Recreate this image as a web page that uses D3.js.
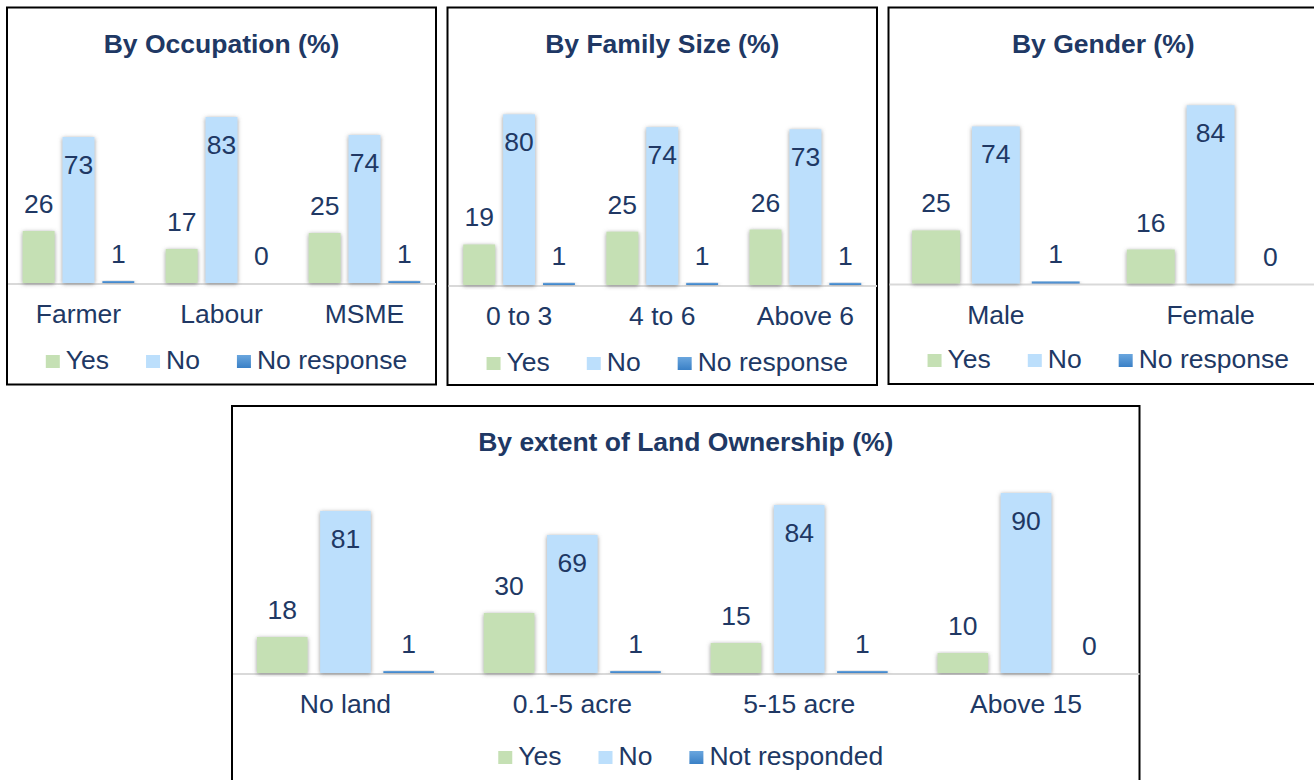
<!DOCTYPE html>
<html>
<head>
<meta charset="utf-8">
<script src="https://cdn.jsdelivr.net/npm/d3@7"></script>
<style>
  body { margin: 0; background: #fff; }
  svg text { font-family: "Liberation Sans", Arial, sans-serif; fill: #203864; }
</style>
</head>
<body>
<div id="wrapper"></div>
<script>
/*global d3*/

// 1. Data

const occCategories = ["Farmer", "Labour", "MSME"]
const occYes = [26, 17, 25]
const occNo = [73, 83, 74]
const occNoResponse = [1, 0, 1]

const famCategories = ["0 to 3", "4 to 6", "Above 6"]
const famYes = [19, 25, 26]
const famNo = [80, 74, 73]
const famNoResponse = [1, 1, 1]

const genCategories = ["Male", "Female"]
const genYes = [25, 16]
const genNo = [74, 84]
const genNoResponse = [1, 0]

const landCategories = ["No land", "0.1-5 acre", "5-15 acre", "Above 15"]
const landYes = [18, 30, 15, 10]
const landNo = [81, 69, 84, 90]
const landNoResponse = [1, 1, 1, 0]

const seriesNames = ["Yes", "No", "No response"]
const landSeriesNames = ["Yes", "No", "Not responded"]

function drawChart() {

    const svg = d3.select("#wrapper")
        .append("svg")
        .attr("width", 1314)
        .attr("height", 780)

    const defs = svg.append("defs")

    const shadow = defs.append("filter")
        .attr("id", "barShadow")
        .attr("x", "-30%").attr("y", "-10%")
        .attr("width", "160%").attr("height", "120%")
    shadow.append("feDropShadow")
        .attr("dx", 0).attr("dy", 1)
        .attr("stdDeviation", 2)
        .attr("flood-color", "#6f6f6f")
        .attr("flood-opacity", 0.75)

    const grad = defs.append("linearGradient")
        .attr("id", "nrGrad")
        .attr("x1", 0).attr("y1", 0).attr("x2", 0).attr("y2", 1)
    grad.append("stop").attr("offset", "0%").attr("stop-color", "#6aa6de")
    grad.append("stop").attr("offset", "100%").attr("stop-color", "#3a80c6")

    const fills = ["#c5e0b4", "#bcdffc", "url(#nrGrad)"]

    function drawPanel(p) {
        const g = svg.append("g")

        // frame
        g.append("rect")
            .attr("x", p.left)
            .attr("y", p.top)
            .attr("width", p.right - p.left)
            .attr("height", p.bottom - p.top)
            .attr("fill", "#fff")
            .attr("stroke", "#000")
            .attr("stroke-width", 2)

        const cx = (p.left + p.right) / 2

        g.append("text")
            .attr("x", cx)
            .attr("y", p.top + 45)
            .attr("text-anchor", "middle")
            .style("font-size", "26.5px")
            .style("font-weight", "bold")
            .text(p.title)

        // scales
        const x0 = d3.scaleBand()
            .domain(p.categories)
            .range([p.left, p.right])
            .padding(0)

        const groupW = x0.bandwidth() * 0.78

        const x1 = d3.scaleBand()
            .domain(p.series)
            .range([0, groupW])
            .paddingInner(0.2)
            .paddingOuter(0)

        const y = d3.scaleLinear()
            .domain([0, p.yMax])
            .range([p.baseline, p.baseline - p.plotH])

        const rows = p.categories.map((c, i) => ({
            category: c,
            values: [p.yes[i], p.no[i], p.nr[i]].map((v, j) => ({ series: p.series[j], idx: j, value: v }))
        }))

        // axis line
        g.append("line")
            .attr("x1", p.left + 1)
            .attr("x2", Math.min(p.right, 1314))
            .attr("y1", p.baseline + 1)
            .attr("y2", p.baseline + 1)
            .attr("stroke", "#d9d9d9")
            .attr("stroke-width", 2)

        const groups = g.selectAll(".grp")
            .data(rows)
            .join("g")
            .attr("transform", d => `translate(${x0(d.category) + (x0.bandwidth() - groupW) / 2},0)`)

        groups.selectAll("rect")
            .data(d => d.values)
            .join("rect")
            .attr("x", d => x1(d.series))
            .attr("y", d => y(d.value))
            .attr("width", x1.bandwidth())
            .attr("height", d => p.baseline - y(d.value))
            .attr("fill", d => fills[d.idx])
            .attr("filter", "url(#barShadow)")

        groups.selectAll("text")
            .data(d => d.values)
            .join("text")
            .attr("x", d => x1(d.series) + x1.bandwidth() / 2)
            .attr("y", d => d.idx === 1 ? y(d.value) + 37 : y(d.value) - 18)
            .attr("text-anchor", "middle")
            .style("font-size", "26.5px")
            .text(d => d.value)

        // category labels
        g.selectAll(".cat")
            .data(p.categories)
            .join("text")
            .attr("x", d => x0(d) + x0.bandwidth() / 2)
            .attr("y", p.baseline + 40)
            .attr("text-anchor", "middle")
            .style("font-size", "26.5px")
            .text(d => d)

        // legend
        const legend = g.append("g")
        let lx = 0
        p.series.forEach((name, j) => {
            const item = legend.append("g").attr("transform", `translate(${lx},0)`)
            item.append("rect")
                .attr("x", 0)
                .attr("y", -14)
                .attr("width", 14)
                .attr("height", 13)
                .attr("fill", fills[j])
            const t = item.append("text")
                .attr("x", 20)
                .attr("y", 0)
                .style("font-size", "26.5px")
                .text(name)
            lx += 20 + t.node().getComputedTextLength() + 37
        })
        const legendW = lx - 37
        legend.attr("transform", `translate(${cx + 5 - legendW / 2},${p.legendY})`)
    }

    drawPanel({
        title: "By Occupation (%)",
        left: 7, right: 436, top: 7.5, bottom: 384.5,
        baseline: 283, plotH: 180, yMax: 90, legendY: 369,
        categories: occCategories, yes: occYes, no: occNo, nr: occNoResponse,
        series: seriesNames
    })

    drawPanel({
        title: "By Family Size (%)",
        left: 447.5, right: 877, top: 7.5, bottom: 385,
        baseline: 285, plotH: 192, yMax: 90, legendY: 371,
        categories: famCategories, yes: famYes, no: famNo, nr: famNoResponse,
        series: seriesNames
    })

    drawPanel({
        title: "By Gender (%)",
        left: 888.5, right: 1318, top: 7.5, bottom: 384,
        baseline: 283.5, plotH: 191, yMax: 90, legendY: 368,
        categories: genCategories, yes: genYes, no: genNo, nr: genNoResponse,
        series: seriesNames
    })

    drawPanel({
        title: "By extent of Land Ownership (%)",
        left: 232, right: 1139.5, top: 406, bottom: 800,
        baseline: 673, plotH: 200, yMax: 100, legendY: 765,
        categories: landCategories, yes: landYes, no: landNo, nr: landNoResponse,
        series: landSeriesNames
    })
}

drawChart()
</script>
</body>
</html>
